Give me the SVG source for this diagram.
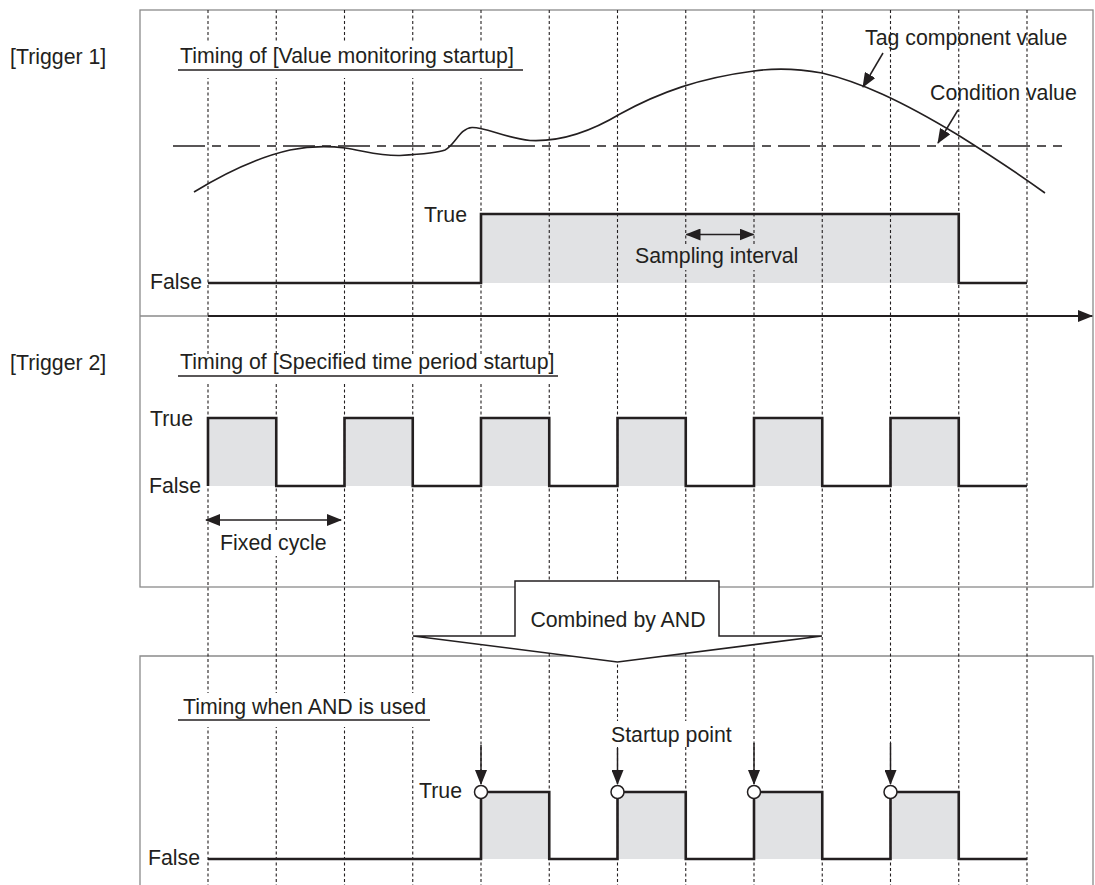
<svg xmlns="http://www.w3.org/2000/svg" width="1095" height="885" viewBox="0 0 1095 885">
<defs>
<style>
text{font-family:"Liberation Sans",Arial,sans-serif;font-size:21.3px;fill:#231f20}
.end{text-anchor:end}
.panel{fill:none;stroke:#8a8a8a;stroke-width:1.3}
.grid{stroke:#231f20;stroke-width:1.1;stroke-dasharray:3 2.5}
.sig{fill:none;stroke:#231f20;stroke-width:2.6;stroke-linejoin:miter}
.hi{fill:#e1e2e4}
.arr{fill:none;stroke:#231f20;stroke-width:1.5}
.ul{stroke:#231f20;stroke-width:1.5}
.bgw{fill:#ffffff}
</style>
<marker id="ah" viewBox="0 0 15 12" refX="14" refY="6" markerWidth="15" markerHeight="12" markerUnits="userSpaceOnUse" orient="auto-start-reverse">
<path d="M0,0 L15,6 L0,12 z" fill="#231f20"/>
</marker>
</defs>
<rect x="0" y="0" width="1095" height="885" fill="#ffffff"/>

<g id="panels">
<rect class="panel" x="140" y="10" width="953" height="577"/>
<line class="panel" x1="140" y1="316" x2="1093" y2="316"/>
<path class="panel" d="M140,885 V656 H1093 V885"/>
</g>

<g id="fills">
<rect class="hi" x="481" y="214" width="477.75" height="69"/>
<rect class="hi" x="208" y="418" width="68.25" height="68"/>
<rect class="hi" x="344.5" y="418" width="68.25" height="68"/>
<rect class="hi" x="481" y="418" width="68.25" height="68"/>
<rect class="hi" x="617.5" y="418" width="68.25" height="68"/>
<rect class="hi" x="754" y="418" width="68.25" height="68"/>
<rect class="hi" x="890.5" y="418" width="68.25" height="68"/>
<rect class="hi" x="481" y="792" width="68.25" height="67"/>
<rect class="hi" x="617.5" y="792" width="68.25" height="67"/>
<rect class="hi" x="754" y="792" width="68.25" height="67"/>
<rect class="hi" x="890.5" y="792" width="68.25" height="67"/>
</g>

<g id="grid">
<line class="grid" x1="208" y1="10" x2="208" y2="885"/>
<line class="grid" x1="276.25" y1="10" x2="276.25" y2="885"/>
<line class="grid" x1="344.5" y1="10" x2="344.5" y2="885"/>
<line class="grid" x1="412.75" y1="10" x2="412.75" y2="885"/>
<line class="grid" x1="481" y1="10" x2="481" y2="885"/>
<line class="grid" x1="549.25" y1="10" x2="549.25" y2="885"/>
<line class="grid" x1="617.5" y1="10" x2="617.5" y2="885"/>
<line class="grid" x1="685.75" y1="10" x2="685.75" y2="885"/>
<line class="grid" x1="754" y1="10" x2="754" y2="885"/>
<line class="grid" x1="822.25" y1="10" x2="822.25" y2="885"/>
<line class="grid" x1="890.5" y1="10" x2="890.5" y2="885"/>
<line class="grid" x1="958.75" y1="10" x2="958.75" y2="885"/>
<line class="grid" x1="1027" y1="10" x2="1027" y2="885"/>
</g>

<g id="label-backgrounds">
<rect class="bgw" x="176" y="43" width="350" height="35"/>
<rect class="bgw" x="176" y="354" width="385" height="28"/>
<rect class="bgw" x="176" y="693" width="258" height="34"/>
<rect class="bgw" x="216" y="531" width="114" height="25"/>
<rect class="bgw" x="607" y="721" width="128" height="25"/>
<rect class="hi" x="631" y="244" width="168" height="26"/>
</g>

<g id="trigger1">
<text x="10" y="64">[Trigger 1]</text>
<text x="180" y="63">Timing of [Value monitoring startup]</text>
<line class="ul" x1="178" y1="70" x2="523" y2="70"/>
<line id="condition-line" x1="173" y1="146" x2="1062" y2="146" stroke="#231f20" stroke-width="1.3" stroke-dasharray="32 7 9 7"/>
<path id="tag-curve" d="M194,192 C220,176 255,158 290,150 C310,146 330,146 345,148 C365,151 380,156 400,155.5 C425,154 438,153 445,150 C455,145 460,128 472,127.5 C485,127 505,138 530,140.5 C560,142 590,132 620,114 C660,92 700,78 754,71 C775,68 800,69 822,73 C860,82 900,100 958,135 C990,155 1020,175 1045,193" fill="none" stroke="#231f20" stroke-width="1.6"/>
<text x="865" y="45">Tag component value</text>
<text x="930" y="100">Condition value</text>
<path class="sig" d="M208,283 H481 V214 H958.75 V283 H1027"/>
<text class="end" x="467" y="222">True</text>
<text class="end" x="202" y="289">False</text>
<text x="635" y="263">Sampling interval</text>
</g>

<g id="trigger2">
<text x="10" y="370">[Trigger 2]</text>
<text x="180" y="369">Timing of [Specified time period startup]</text>
<line class="ul" x1="178" y1="376" x2="558" y2="376"/>
<path class="sig" d="M208,486 V418 H276.25 V486 H344.5 V418 H412.75 V486 H481 V418 H549.25 V486 H617.5 V418 H685.75 V486 H754 V418 H822.25 V486 H890.5 V418 H958.75 V486 H1027"/>
<text class="end" x="193" y="426">True</text>
<text class="end" x="201" y="493">False</text>
<text x="220" y="550">Fixed cycle</text>
</g>

<g id="combined-by-and">
<path d="M515,581 H719 V636 H822 L617.5,662 L413,636 H515 Z" fill="#ffffff" stroke="#231f20" stroke-width="1.5" stroke-linejoin="miter"/>
<text x="618" y="627" text-anchor="middle">Combined by AND</text>
</g>

<g id="and-result">
<text x="183" y="714">Timing when AND is used</text>
<line class="ul" x1="178" y1="720" x2="430" y2="720"/>
<path class="sig" d="M208,859 H481 V792 H549.25 V859 H617.5 V792 H685.75 V859 H754 V792 H822.25 V859 H890.5 V792 H958.75 V859 H1027"/>
<text class="end" x="462" y="798">True</text>
<text class="end" x="200" y="865">False</text>
<text x="611" y="742">Startup point</text>
<circle cx="481" cy="792" r="6.5" fill="#ffffff" stroke="#231f20" stroke-width="1.5"/>
<circle cx="617.5" cy="792" r="6.5" fill="#ffffff" stroke="#231f20" stroke-width="1.5"/>
<circle cx="754" cy="792" r="6.5" fill="#ffffff" stroke="#231f20" stroke-width="1.5"/>
<circle cx="890.5" cy="792" r="6.5" fill="#ffffff" stroke="#231f20" stroke-width="1.5"/>
</g>

<g id="connectors">
<line x1="208" y1="316" x2="1092" y2="316" stroke="#231f20" stroke-width="2" marker-end="url(#ah)"/>
<line class="arr" x1="883" y1="53" x2="863" y2="87" marker-end="url(#ah)"/>
<line class="arr" x1="958" y1="110" x2="938" y2="143" marker-end="url(#ah)"/>
<line class="arr" x1="686.5" y1="234.5" x2="753.5" y2="234.5" marker-start="url(#ah)" marker-end="url(#ah)"/>
<line class="arr" x1="206" y1="520" x2="341" y2="520" marker-start="url(#ah)" marker-end="url(#ah)"/>
<line class="arr" x1="481" y1="745" x2="481" y2="784" marker-end="url(#ah)"/>
<line class="arr" x1="617.5" y1="748" x2="617.5" y2="784" marker-end="url(#ah)"/>
<line class="arr" x1="754" y1="743" x2="754" y2="784" marker-end="url(#ah)"/>
<line class="arr" x1="890.5" y1="743" x2="890.5" y2="784" marker-end="url(#ah)"/>
</g>
</svg>
